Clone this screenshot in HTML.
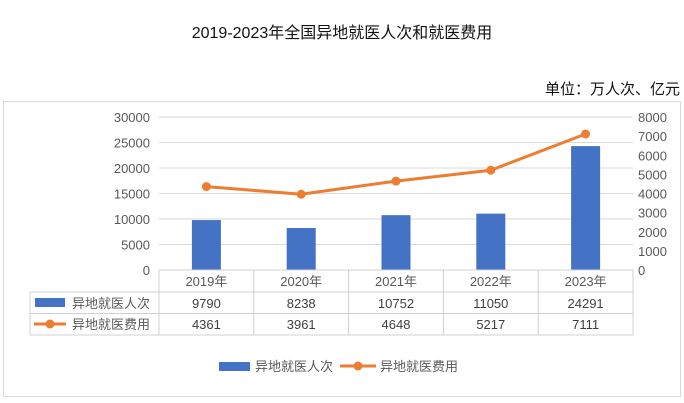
<!DOCTYPE html>
<html><head><meta charset="utf-8"><style>
body{margin:0;background:#fff;}
svg{display:block;font-family:"Liberation Sans","Noto Sans CJK SC",sans-serif;}
</style></head><body>
<svg id="c" width="684" height="403" xmlns="http://www.w3.org/2000/svg">
<text x="342" y="38" text-anchor="middle" font-size="16" fill="#111">2019-2023年全国异地就医人次和就医费用</text>
<text x="680" y="94" text-anchor="end" font-size="15" fill="#111">单位：万人次、亿元</text>
<rect x="3.5" y="101.5" width="677" height="295" fill="none" stroke="#d9d9d9"/>
<g id="g"></g>
</svg>
<script>
const categories=["2019年","2020年","2021年","2022年","2023年"];
const visits=[9790,8238,10752,11050,24291];
const costs=[4361,3961,4648,5217,7111];
const leftTicks=[0,5000,10000,15000,20000,25000,30000];
const rightTicks=[0,1000,2000,3000,4000,5000,6000,7000,8000];
const NS="http://www.w3.org/2000/svg";
const g=document.getElementById('g');
const X0=159,X1=633,Y0=270,Y1=117,TL=30;
const bw=(X1-X0)/categories.length;
const yL=v=>Y0-(v/30000)*(Y0-Y1);
const yR=v=>Y0-(v/8000)*(Y0-Y1);
const xC=i=>X0+bw*(i+0.5);
function el(t,a,txt){const e=document.createElementNS(NS,t);for(const k in a)e.setAttribute(k,a[k]);if(txt!==undefined)e.textContent=txt;g.appendChild(e);return e;}
leftTicks.forEach(v=>{
 if(v>0){const l=el('line',{x1:X0,x2:X1,y1:yL(v),y2:yL(v),stroke:'#d9d9d9'});
 
 }
 const t=el('text',{x:150,y:yL(v)+5,'text-anchor':'end','font-size':13,fill:'#595959'},v);
 
 
});
rightTicks.forEach(v=>{
 const t=el('text',{x:638,y:yR(v)+5,'font-size':13,fill:'#595959'},v);
 
 
});
visits.forEach((v,i)=>{
 const r=el('rect',{x:xC(i)-14.5,y:yL(v),width:29,height:Y0-yL(v),fill:'#4472c4'});
 
 
});
const pts=costs.map((v,i)=>xC(i)+','+yR(v)).join(' ');
const pl=el('polyline',{points:pts,fill:'none',stroke:'#ed7d31','stroke-width':3});


costs.forEach((v,i)=>{
 const c=el('circle',{cx:xC(i),cy:yR(v),r:4.5,fill:'#ed7d31'});
 
 
});
// table
const tc='#d0d0d0';
const rows=[270,292,313.5,335];
el('line',{x1:X0,x2:X1,y1:270,y2:270,stroke:tc});
el('line',{x1:TL,x2:X1,y1:292,y2:292,stroke:tc});
el('line',{x1:TL,x2:X1,y1:313.5,y2:313.5,stroke:tc});
el('line',{x1:TL,x2:X1,y1:335,y2:335,stroke:tc});
el('line',{x1:TL,x2:TL,y1:292,y2:335,stroke:tc});
for(let i=0;i<=categories.length;i++)el('line',{x1:X0+bw*i,x2:X0+bw*i,y1:270,y2:335,stroke:tc});
categories.forEach((c,i)=>{
 const t=el('text',{x:xC(i),y:286,'text-anchor':'middle','font-size':13,fill:'#595959'},c);
 
 
 const a=el('text',{x:xC(i),y:308,'text-anchor':'middle','font-size':13,fill:'#404040'},visits[i]);
 
 
 const b=el('text',{x:xC(i),y:329,'text-anchor':'middle','font-size':13,fill:'#404040'},costs[i]);
 
 
});
el('rect',{x:35,y:298,width:30,height:9,fill:'#4472c4'});
el('text',{x:72,y:308,'font-size':13,fill:'#595959'},'异地就医人次');
el('line',{x1:34,x2:66,y1:324,y2:324,stroke:'#ed7d31','stroke-width':3});
el('circle',{cx:50,cy:324,r:4.5,fill:'#ed7d31'});
el('text',{x:72,y:329,'font-size':13,fill:'#595959'},'异地就医费用');
// legend
const l1=el('rect',{x:219,y:362,width:31,height:9,fill:'#4472c4'});


el('text',{x:255,y:371,'font-size':13,fill:'#595959'},'异地就医人次');
const l2=el('line',{x1:340,x2:376,y1:366,y2:366,stroke:'#ed7d31','stroke-width':3});


el('circle',{cx:358,cy:366,r:4.5,fill:'#ed7d31'});
el('text',{x:380,y:371,'font-size':13,fill:'#595959'},'异地就医费用');
</script>
</body></html>
